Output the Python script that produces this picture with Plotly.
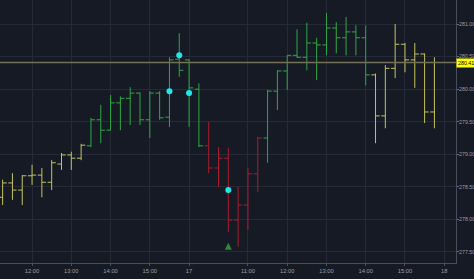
import pandas as pd
import plotly.graph_objects as go

# ---- data ----
times = list(pd.date_range("2019-10-16 11:15", "2019-10-16 15:45", freq="15min")) + \
        list(pd.date_range("2019-10-17 09:30", "2019-10-17 15:45", freq="15min"))

opens  = [278.34, 278.56, 278.45, 278.67, 278.68, 278.57, 278.85, 278.99, 278.94,
          279.13, 279.53, 279.37, 279.79, 279.86, 279.94, 279.53, 279.94, 279.57, 280.46,
          280.45, 280.00,
          279.13, 278.79, 278.94, 277.99, 278.22, 278.70,
          279.25, 279.97, 280.28, 280.52, 280.49, 280.71, 280.68, 280.94, 280.79, 280.88, 280.79,
          280.22, 279.59, 280.32, 280.69, 280.45, 280.54, 279.65]
highs  = [278.61, 278.71, 278.68, 278.84, 278.79, 278.91, 279.02, 279.04, 279.16,
          279.56, 279.76, 279.91, 279.89, 280.03, 279.95, 279.97, 279.97, 280.49, 280.86,
          280.46, 280.09,
          279.50, 279.11, 279.10, 278.50, 278.79, 279.27,
          279.99, 280.29, 280.52, 280.92, 281.02, 280.79, 281.17, 281.03, 281.11, 280.98, 280.98,
          280.24, 280.37, 281.00, 280.71, 280.71, 280.55, 280.49]
lows   = [278.22, 278.30, 278.22, 278.53, 278.34, 278.45, 278.76, 278.76, 278.91,
          279.11, 279.17, 279.37, 279.37, 279.45, 279.45, 279.25, 279.53, 279.42, 280.19,
          279.42, 279.11,
          278.71, 278.50, 277.81, 277.58, 277.84, 278.42,
          278.87, 279.68, 279.99, 280.48, 280.29, 280.14, 280.52, 280.55, 280.52, 280.52, 280.06,
          279.17, 279.40, 280.17, 280.26, 280.02, 279.48, 279.40]
closes = [278.56, 278.45, 278.67, 278.68, 278.57, 278.87, 278.99, 278.94, 279.14,
          279.53, 279.37, 279.79, 279.86, 279.94, 279.53, 279.94, 279.56, 280.45, 280.29,
          280.02, 279.13,
          278.79, 278.94, 277.99, 278.22, 278.70, 279.25,
          279.97, 280.28, 280.52, 280.49, 280.71, 280.68, 280.94, 280.79, 280.88, 280.79, 280.22,
          279.59, 280.32, 280.69, 280.45, 280.54, 279.65, 280.41]
groups = ["yellow"] * 9 + ["green"] * 12 + ["red"] * 6 + ["green"] * 11 + ["yellow"] * 7

last_price = 280.41
dot_idx = [17, 18, 19, 23]
dot_prices = [279.97, 280.52, 279.94, 278.45]
arrow_idx = [23]
arrow_prices = [277.64]

y_ticks = [277.5, 278.0, 278.5, 279.0, 279.5, 280.0, 280.5, 281.0]
x_tickvals = ["2019-10-16 12:00", "2019-10-16 13:00", "2019-10-16 14:00", "2019-10-16 15:00",
              "2019-10-17 09:30", "2019-10-17 11:00", "2019-10-17 12:00", "2019-10-17 13:00",
              "2019-10-17 14:00", "2019-10-17 15:00", "2019-10-18 09:30"]
x_ticktext = ["12:00", "13:00", "14:00", "15:00", "17", "11:00", "12:00", "13:00",
              "14:00", "15:00", "18"]

colors = {"yellow": "#c4c25a", "green": "#2fa844", "red": "#a81c2c"}

# ---- figure ----
fig = go.Figure()
for g, col in colors.items():
    idx = [i for i, gg in enumerate(groups) if gg == g]
    fig.add_trace(go.Ohlc(
        x=[times[i] for i in idx],
        open=[opens[i] for i in idx], high=[highs[i] for i in idx],
        low=[lows[i] for i in idx], close=[closes[i] for i in idx],
        increasing=dict(line=dict(color=col, width=1)),
        decreasing=dict(line=dict(color=col, width=1)),
        tickwidth=0.42, showlegend=False, hoverinfo="skip"))

fig.add_trace(go.Scatter(x=[times[i] for i in dot_idx], y=dot_prices, mode="markers",
                         marker=dict(color="#1ee8e8", size=6, symbol="circle"),
                         showlegend=False, hoverinfo="skip"))
fig.add_trace(go.Scatter(x=[times[i] for i in arrow_idx], y=arrow_prices, mode="markers",
                         marker=dict(color="#2a8a38", size=7, symbol="arrow-up"),
                         showlegend=False, hoverinfo="skip"))

fig.add_shape(type="line", xref="paper", x0=0, x1=1, yref="y", y0=last_price, y1=last_price,
              line=dict(color="#747256", width=1.3), layer="above")
fig.add_annotation(xref="paper", x=1, yref="y", y=last_price, text=f"{last_price:.2f}",
                   xanchor="left", yanchor="middle", showarrow=False, bgcolor="#ffff00",
                   font=dict(color="#000000", size=5.3, family="Liberation Sans"),
                   borderpad=1, xshift=0)

tickfont = dict(color="#9a9ea8", size=5.3, family="Liberation Sans")
bg = "#161a25"
grid = "#262a36"
fig.update_layout(
    width=474, height=279, margin=dict(l=0, r=18, t=0, b=16),
    paper_bgcolor=bg, plot_bgcolor=bg,
    xaxis=dict(type="date", rangeslider=dict(visible=False), automargin=False,
               rangebreaks=[dict(bounds=[16, 9.5], pattern="hour")],
               range=["2019-10-16 11:11", "2019-10-18 09:48"],
               tickvals=x_tickvals, ticktext=x_ticktext,
               tickfont=dict(color="#9a9ea8", size=5.8, family="Liberation Sans"),
               showgrid=True, gridcolor=grid, gridwidth=1,
               showline=True, linecolor="#4a4e5a", linewidth=1,
               ticks="outside", ticklen=2, tickcolor="#4a4e5a", zeroline=False),
    yaxis=dict(side="right", range=[277.33, 281.37], tickvals=y_ticks, automargin=False,
               tickformat=".2f", tickfont=tickfont, ticklabelstandoff=-1,
               showgrid=True, gridcolor=grid, gridwidth=1,
               showline=True, linecolor="#4a4e5a", linewidth=1,
               ticks="outside", ticklen=2, tickcolor="#6a6e7a", zeroline=False),
)
fig.write_html("out.html")
